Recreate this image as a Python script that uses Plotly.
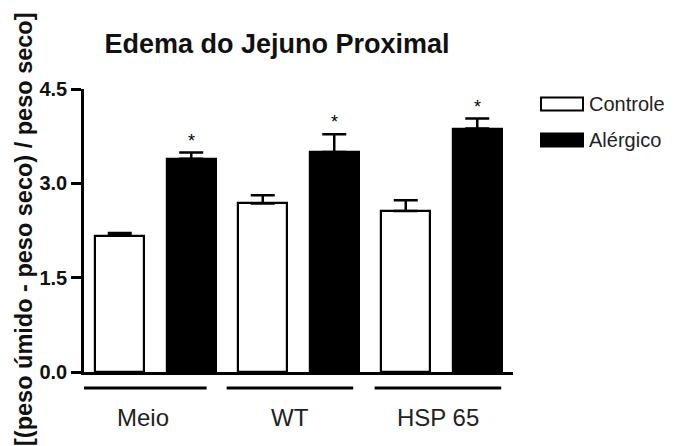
import plotly.graph_objects as go

groups = ["Meio", "WT", "HSP 65"]
series = ["Controle", "Alérgico"]
controle = [2.17, 2.68, 2.56]
controle_err = [0.04, 0.13, 0.17]
alergico = [3.39, 3.50, 3.87]
alergico_err = [0.10, 0.28, 0.16]
yticks = [0.0, 1.5, 3.0, 4.5]
title = "Edema do Jejuno Proximal"
ytitle = "[(peso úmido - peso seco) / peso seco]"

FONT = "Liberation Sans, Arial, sans-serif"
W, H = 675, 446
L, R, T, B = 84, 162, 89, 74
pw, ph = W - L - R, H - T - B

def px_x(p):
    return (p - L) / pw

def px_y(p):
    return (H - B - p) / ph

xc = [2 * i for i in range(len(groups))]
xa = [2 * i + 1 for i in range(len(groups))]

fig = go.Figure()
fig.add_trace(go.Bar(
    x=xc, y=controle, name=series[0], width=0.685,
    marker=dict(color="white", line=dict(color="black", width=2.2)),
    error_y=dict(type="data", symmetric=False, array=controle_err,
                 arrayminus=[0] * len(groups), color="black", thickness=2.5, width=12),
    showlegend=False,
))
fig.add_trace(go.Bar(
    x=xa, y=alergico, name=series[1], width=0.685,
    marker=dict(color="black", line=dict(color="black", width=2.2)),
    error_y=dict(type="data", symmetric=False, array=alergico_err,
                 arrayminus=[0] * len(groups), color="black", thickness=2.5, width=12),
    showlegend=False,
))

annotations = []
shapes = []
# significance stars
for x, v, e in zip(xa, alergico, alergico_err):
    annotations.append(dict(x=x, y=v + e, xref="x", yref="y", text="*", showarrow=False,
                            yanchor="bottom", yshift=0, font=dict(family=FONT, size=18, color="black")))

# group underlines and labels
offsets = [-0.17, -0.12, -0.05]
for i, g in enumerate(groups):
    c = 2 * i + 0.5 + offsets[i]
    shapes.append(dict(type="line", xref="x", yref="paper", x0=c - 0.885, x1=c + 0.885,
                       y0=px_y(388), y1=px_y(388), line=dict(color="black", width=3)))
    annotations.append(dict(x=c, y=px_y(417), xref="x", yref="paper", text=g, showarrow=False,
                            xanchor="center", yanchor="middle",
                            font=dict(family=FONT, size=24, color="#222222")))

# legend
leg_y = [104, 140]
fills = ["white", "black"]
for s, yc, f in zip(series, leg_y, fills):
    shapes.append(dict(type="rect", xref="paper", yref="paper", x0=px_x(541), x1=px_x(583),
                       y0=px_y(yc + 6.5), y1=px_y(yc - 6.5), fillcolor=f,
                       line=dict(color="black", width=2)))
    annotations.append(dict(x=px_x(587), y=px_y(yc), xref="paper", yref="paper", text=s,
                            showarrow=False, xanchor="left", yanchor="middle",
                            font=dict(family=FONT, size=20, color="#222222")))

# y title
annotations.append(dict(x=px_x(24), y=px_y(229), xref="paper", yref="paper", text=ytitle,
                        showarrow=False, textangle=-90, xanchor="center", yanchor="middle",
                        font=dict(family=FONT, size=23.5, color="#111111", weight="bold")))

fig.update_layout(
    width=W, height=H,
    margin=dict(l=L, r=R, t=T, b=B, pad=0),
    paper_bgcolor="white", plot_bgcolor="white",
    title=dict(text="<b>" + title + "</b>", x=277 / W, xanchor="center", y=1 - 44 / H,
               yanchor="middle", font=dict(family=FONT, size=27, color="#111111")),
    bargap=0, barmode="overlay",
    xaxis=dict(range=[-0.5, 5.5], showline=True, linecolor="black", linewidth=2.5,
               showticklabels=False, ticks="", showgrid=False, zeroline=False, fixedrange=True),
    yaxis=dict(range=[0, 4.5], tickvals=yticks, ticktext=[f"{v:.1f}" for v in yticks],
               showline=True, linecolor="black", linewidth=2.5, ticks="outside",
               ticklen=10, tickwidth=2.5, tickcolor="black", showgrid=False, zeroline=False,
               tickfont=dict(family=FONT, size=20, color="#111111", weight="bold")),
    annotations=annotations, shapes=shapes,
    showlegend=False,
)

fig.write_html("out.html", config={"displayModeBar": False},
               post_script="document.body.style.margin='0';")
